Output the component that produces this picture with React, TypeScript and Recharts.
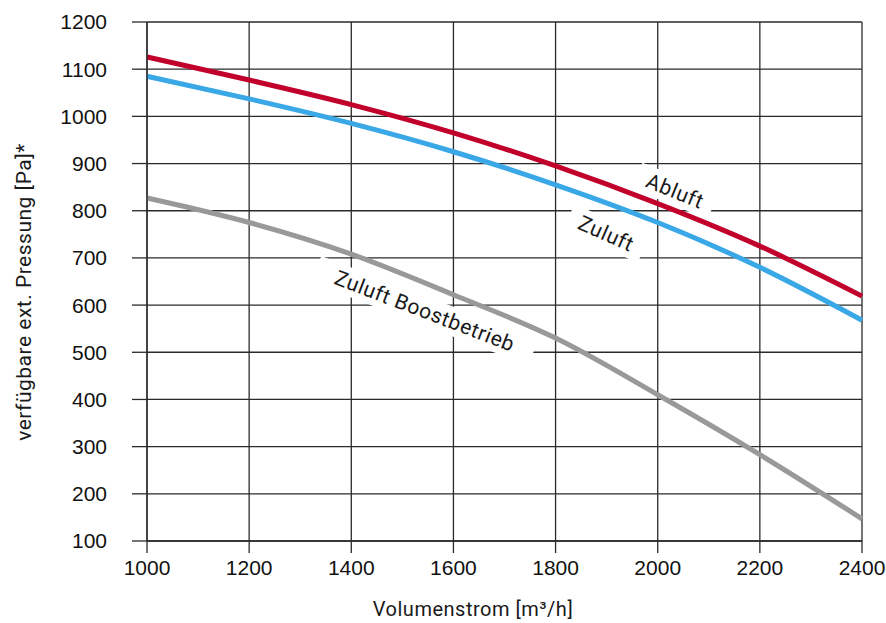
import { LineChart, Line, XAxis, YAxis, CartesianGrid, ReferenceDot } from "recharts";

// Volumenstrom [m³/h]
const flow = [1000, 1200, 1400, 1600, 1800, 2000, 2200, 2400];
// available external pressure [Pa]
const abluft = [1126, 1077, 1025, 965, 895, 815, 725, 619];
const zuluft = [1085, 1037, 985, 925, 855, 775, 680, 568];
const zuluftBoost = [827, 775, 708, 622, 530, 410, 283, 147];

const yTicks = [100, 200, 300, 400, 500, 600, 700, 800, 900, 1000, 1100, 1200];

// curve captions, placed in data units
const captions = [
  { text: "Abluft", x: 2034, y: 842, angle: 22 },
  { text: "Zuluft", x: 1899, y: 752, angle: 24 },
  { text: "Zuluft Boostbetrieb", x: 1544, y: 588, angle: 21 },
];

const data = flow.map((f, i) => ({
  flow: f,
  abluft: abluft[i],
  zuluft: zuluft[i],
  boost: zuluftBoost[i],
}));

const GRID = "#2a2a2a";
const TITLE_FONT = "Roboto, 'DejaVu Sans', sans-serif";
const TICK_FONT = "'Liberation Sans', Arial, sans-serif";

function Caption({ cx, cy, text, angle }: { cx?: number; cy?: number; text: string; angle: number }) {
  if (cx == null || cy == null) return null;
  const w = text.length * 11.6 + 12;
  return (
    <g transform={`translate(${cx},${cy}) rotate(${angle})`}>
      <rect x={-w / 2} y={-14} width={w} height={28} fill="#fff" />
      <text
        x={0}
        y={0}
        dy="0.35em"
        textAnchor="middle"
        fontFamily={TITLE_FONT}
        fontSize={21}
        letterSpacing={0.6}
        fill="#1a1a1a"
      >
        {text}
      </text>
    </g>
  );
}

export default function App() {
  return (
    <div style={{ position: "absolute", left: 0, top: 0, background: "#fff" }}>
      <LineChart width={886} height={623} data={data} margin={{ top: 22, right: 24, bottom: 0, left: 0 }}>
        <CartesianGrid stroke={GRID} strokeWidth={1.3} />
        <XAxis
          dataKey="flow"
          type="number"
          domain={[1000, 2400]}
          ticks={flow}
          height={82}
          tickSize={12}
          tickMargin={7}
          stroke={GRID}
          axisLine={{ stroke: GRID, strokeWidth: 1.3 }}
          tickLine={{ stroke: GRID, strokeWidth: 1.3 }}
          tick={{ fill: "#111", fontSize: 21, fontFamily: TICK_FONT }}
          label={{
            content: () => (
              <text
                x={473}
                y={609}
                dy="0.35em"
                textAnchor="middle"
                fontFamily={TITLE_FONT}
                fontSize={20}
                letterSpacing={0.5}
                fill="#1a1a1a"
              >
                Volumenstrom [m³/h]
              </text>
            ),
          }}
        />
        <YAxis
          type="number"
          domain={[100, 1200]}
          ticks={yTicks}
          width={147}
          tickSize={15}
          tickMargin={25}
          stroke={GRID}
          axisLine={{ stroke: GRID, strokeWidth: 1.3 }}
          tickLine={{ stroke: GRID, strokeWidth: 1.3 }}
          tick={{ fill: "#111", fontSize: 21, fontFamily: TICK_FONT }}
          label={{
            content: () => (
              <text
                x={24}
                y={292}
                dy="0.35em"
                transform="rotate(-90 24 292)"
                textAnchor="middle"
                fontFamily={TITLE_FONT}
                fontSize={21}
                letterSpacing={0.5}
                fill="#1a1a1a"
              >
                verfügbare ext. Pressung [Pa]*
              </text>
            ),
          }}
        />
        <Line dataKey="boost" type="monotone" stroke="#999999" strokeWidth={5} dot={false} isAnimationActive={false} />
        <Line dataKey="zuluft" type="monotone" stroke="#3aa8e6" strokeWidth={5} dot={false} isAnimationActive={false} />
        <Line dataKey="abluft" type="monotone" stroke="#c2002c" strokeWidth={5} dot={false} isAnimationActive={false} />
        {captions.map((c) => (
          <ReferenceDot
            key={c.text}
            x={c.x}
            y={c.y}
            r={0}
            ifOverflow="visible"
            shape={(p: any) => <Caption cx={p.cx} cy={p.cy} text={c.text} angle={c.angle} />}
          />
        ))}
      </LineChart>
    </div>
  );
}
